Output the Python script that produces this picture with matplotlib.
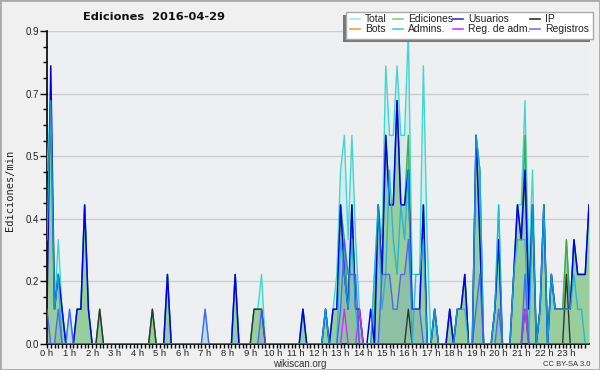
import numpy as np
import matplotlib.pyplot as plt
from matplotlib.lines import Line2D
from matplotlib.patches import Rectangle

# ── DATA (edits per 10 min, in tenths of edits/min) ─────────────────────────
# one row per hour, 6 bins of 10 min, plus the 24 h end point
total = [5, 7, 1, 3, 1, 0,  1, 0, 1, 1, 4, 1,  0, 0, 1, 0, 0, 0,  0, 0, 0, 0, 0, 0,
         0, 0, 0, 0, 1, 0,  0, 0, 2, 0, 0, 0,  0, 0, 0, 0, 0, 0,  1, 0, 0, 0, 0, 0,
         0, 0, 2, 0, 0, 0,  0, 1, 1, 2, 0, 0,  0, 0, 0, 0, 0, 0,  0, 0, 1, 0, 0, 0,
         0, 0, 1, 0, 1, 2,  5, 6, 3, 6, 3, 1,  0, 0, 0, 2, 4, 3,  8, 6, 6, 8, 6, 6,
         9, 2, 2, 2, 8, 3,  0, 1, 0, 0, 0, 1,  0, 1, 1, 2, 0, 0,  6, 5, 0, 0, 0, 1,
         4, 0, 0, 0, 2, 4,  4, 7, 2, 5, 0, 1,  4, 0, 2, 1, 1, 1,  3, 1, 3, 2, 2, 2,
         4]
ediciones = [5, 6, 1, 2, 1, 0,  0, 0, 1, 1, 4, 1,  0, 0, 1, 0, 0, 0,  0, 0, 0, 0, 0, 0,
             0, 0, 0, 0, 1, 0,  0, 0, 2, 0, 0, 0,  0, 0, 0, 0, 0, 0,  0, 0, 0, 0, 0, 0,
             0, 0, 2, 0, 0, 0,  0, 1, 1, 1, 0, 0,  0, 0, 0, 0, 0, 0,  0, 0, 1, 0, 0, 0,
             0, 0, 1, 0, 1, 1,  4, 3, 1, 4, 1, 1,  0, 0, 0, 1, 4, 2,  6, 4, 4, 7, 4, 4,
             6, 1, 1, 1, 4, 0,  0, 1, 0, 0, 0, 1,  0, 1, 1, 2, 0, 0,  6, 5, 0, 0, 0, 1,
             3, 0, 0, 0, 2, 4,  3, 6, 1, 4, 0, 1,  4, 0, 2, 1, 1, 1,  3, 1, 3, 2, 2, 2,
             4]
usuarios = [1, 8, 1, 2, 1, 0,  0, 0, 1, 1, 4, 1,  0, 0, 0, 0, 0, 0,  0, 0, 0, 0, 0, 0,
            0, 0, 0, 0, 0, 0,  0, 0, 2, 0, 0, 0,  0, 0, 0, 0, 0, 0,  0, 0, 0, 0, 0, 0,
            0, 0, 2, 0, 0, 0,  0, 0, 0, 0, 0, 0,  0, 0, 0, 0, 0, 0,  0, 0, 1, 0, 0, 0,
            0, 0, 1, 0, 1, 1,  4, 2, 1, 4, 1, 1,  0, 0, 1, 0, 4, 2,  6, 4, 4, 7, 4, 4,
            5, 1, 1, 1, 4, 0,  0, 1, 0, 0, 0, 1,  0, 1, 1, 2, 0, 0,  6, 3, 0, 0, 0, 1,
            3, 0, 0, 0, 2, 4,  3, 5, 1, 4, 0, 1,  4, 0, 2, 1, 1, 1,  1, 1, 3, 2, 2, 2,
            4]
ip = [0, 0, 0, 0, 0, 0,  0, 0, 0, 0, 0, 0,  0, 0, 1, 0, 0, 0,  0, 0, 0, 0, 0, 0,
      0, 0, 0, 0, 1, 0,  0, 0, 0, 0, 0, 0,  0, 0, 0, 0, 0, 0,  0, 0, 0, 0, 0, 0,
      0, 0, 0, 0, 0, 0,  0, 1, 1, 1, 0, 0,  0, 0, 0, 0, 0, 0,  0, 0, 0, 0, 0, 0,
      0, 0, 0, 0, 0, 0,  0, 0, 0, 0, 0, 0,  0, 0, 0, 0, 0, 0,  0, 0, 0, 0, 0, 0,
      1, 0, 0, 0, 0, 0,  0, 0, 0, 0, 0, 0,  0, 0, 0, 0, 0, 0,  0, 0, 0, 0, 0, 0,
      0, 0, 0, 0, 0, 0,  0, 1, 0, 0, 0, 0,  0, 0, 0, 0, 0, 0,  2, 0, 0, 0, 0, 0,
      0]
bots = [0] * 145
admins = [3, 7, 1, 2, 0, 0,  0, 0, 0, 0, 0, 0,  0, 0, 0, 0, 0, 0,  0, 0, 0, 0, 0, 0,
          0, 0, 0, 0, 0, 0,  0, 0, 0, 0, 0, 0,  0, 0, 0, 0, 0, 0,  0, 0, 0, 0, 0, 0,
          0, 0, 0, 0, 0, 0,  0, 0, 0, 0, 0, 0,  0, 0, 0, 0, 0, 0,  0, 0, 0, 0, 0, 0,
          0, 0, 1, 0, 0, 0,  3, 2, 1, 3, 1, 0,  0, 0, 0, 2, 4, 1,  2, 5, 3, 2, 4, 3,
          5, 0, 2, 2, 3, 0,  0, 1, 0, 0, 0, 0,  0, 1, 1, 1, 0, 0,  6, 5, 0, 0, 0, 1,
          4, 0, 0, 0, 2, 3,  3, 3, 0, 4, 0, 1,  4, 0, 2, 1, 1, 1,  1, 1, 2, 1, 1, 0,
          0]
reg_adm = [0] * 78 + [0, 1, 0, 0, 0, 1] + [0] * 43 + [1] + [0] * 17
registros = [1, 0, 0, 1, 0, 0,  1, 0, 0, 0, 0, 0,  0, 0, 0, 0, 0, 0,  0, 0, 0, 0, 0, 0,
             0, 0, 0, 0, 0, 0,  0, 0, 0, 0, 0, 0,  0, 0, 0, 0, 0, 0,  1, 0, 0, 0, 0, 0,
             0, 0, 0, 0, 0, 0,  0, 0, 0, 1, 0, 0,  0, 0, 0, 0, 0, 0,  0, 0, 0, 0, 0, 0,
             0, 0, 0, 0, 0, 0,  1, 3, 2, 2, 2, 0,  0, 0, 0, 0, 0, 2,  2, 2, 1, 1, 2, 2,
             3, 1, 1, 1, 0, 0,  0, 0, 0, 0, 0, 0,  0, 0, 0, 0, 0, 0,  1, 2, 0, 0, 0, 0,
             1, 0, 0, 0, 0, 0,  0, 2, 0, 0, 0, 0,  0, 0, 0, 0, 0, 0,  0, 0, 0, 0, 0, 0,
             0]

hour_labels = [f"{h} h" for h in range(24)]
ytick_vals = [0.0, 0.18, 0.36, 0.54, 0.72, 0.9]
ytick_labels = ["0.0", "0.2", "0.4", "0.5", "0.7", "0.9"]

legend_names = [["Total", "Ediciones", "Usuarios", "IP"],
                ["Bots", "Admins.", "Reg. de adm.", "Registros"]]
legend_colors = [["#a8e8e6", "#88cc88", "#3333dd", "#333333"],
                 ["#ff9933", "#44ccdd", "#cc44ee", "#7777ee"]]

# ── PLOT ────────────────────────────────────────────────────────────────────
FONT = "Liberation Sans"
hours = np.arange(len(total)) / 6.0
s = lambda v: np.array(v) / 10.0

fig = plt.figure(figsize=(6.0, 3.7), dpi=100, facecolor="#f0f0f0")
ax = fig.add_axes([47 / 600, 26 / 370, 542 / 600, 313 / 370], facecolor="#eeeff1")

for y in ytick_vals[1:]:
    ax.axhline(y, color="#cccccc", linewidth=1.0, zorder=0)

ax.fill_between(hours, 0, s(total), color="#cdecee", alpha=0.75, linewidth=0, zorder=1)
ax.fill_between(hours, 0, s(ediciones), color="#8ec98e", alpha=0.85, linewidth=0, zorder=2)
ax.fill_between(hours, 0, s(registros), color="#5577cc", alpha=0.15, linewidth=0, zorder=3)

ax.plot(hours, s(total), color="#3fd8d0", linewidth=1.0, zorder=4)
ax.plot(hours, s(ediciones), color="#44aa44", linewidth=1.0, zorder=5)
ax.plot(hours, s(usuarios), color="#0000ee", linewidth=1.1, zorder=6)
ax.plot(hours, s(ip), color="#333333", linewidth=1.0, zorder=7)
ax.plot(hours, s(admins), color="#12b4dc", linewidth=1.0, alpha=0.85, zorder=8)
ax.plot(hours, s(reg_adm), color="#cc33ee", linewidth=1.0, zorder=9)
ax.plot(hours, s(registros), color="#4455ff", linewidth=1.0, alpha=0.85, zorder=10)

ax.set_xlim(0, 24)
ax.set_ylim(0, 0.9)
ax.set_xticks(range(24))
ax.set_xticklabels(hour_labels, fontsize=6.8, color="#222222", family=FONT)
ax.set_xticks(np.arange(0, 24, 1 / 6), minor=True)
ax.set_yticks(ytick_vals)
ax.set_yticklabels(ytick_labels, fontsize=7, color="#222222", family=FONT)
ax.set_yticks(np.arange(0, 0.9, 0.045), minor=True)
ax.tick_params(axis="x", which="both", direction="out", length=3, width=1, pad=0.5)
ax.tick_params(axis="y", which="major", direction="out", length=5, width=1, pad=1)
ax.tick_params(axis="y", which="minor", direction="out", length=3, width=1)
for side in ["top", "right"]:
    ax.spines[side].set_visible(False)
ax.spines["left"].set_linewidth(1.2)
ax.spines["bottom"].set_linewidth(1.2)

fig.text(10 / 600, 1 - 190 / 370, "Ediciones/min", rotation=90, va="center", ha="center",
         fontsize=7.5, family="DejaVu Sans Mono", color="#222222")
fig.text(154 / 600, 1 - 17 / 370, "Ediciones  2016-04-29", ha="center", va="center",
         fontsize=8.2, fontweight="bold", color="#111111")
fig.text(300 / 600, 1 - 364 / 370, "wikiscan.org", ha="center", va="center",
         fontsize=7, color="#333333", family=FONT)
fig.text(590 / 600, 1 - 364 / 370, "CC BY-SA 3.0", ha="right", va="center",
         fontsize=5.5, color="#333333", family=FONT)

# legend box with shadow
px = lambda x, y: (x / 600, 1 - y / 370)
fig.add_artist(Rectangle(px(343, 42), 247 / 600, 27 / 370, transform=fig.transFigure,
                         facecolor="#777777", edgecolor="none"))
fig.add_artist(Rectangle(px(346, 39), 247 / 600, 27 / 370, transform=fig.transFigure,
                         facecolor="white", edgecolor="#aaaaaa", linewidth=1))
col_x = [350, 393, 453, 530]
row_y = [19, 29]
for r in range(2):
    for c in range(4):
        x0, y0 = col_x[c], row_y[r]
        fig.add_artist(Line2D([x0 / 600, (x0 + 10) / 600], [1 - y0 / 370] * 2,
                              transform=fig.transFigure, color=legend_colors[r][c], linewidth=1.2))
        fig.text((x0 + 15) / 600, 1 - y0 / 370, legend_names[r][c], ha="left", va="center",
                 fontsize=7.5, color="#222222", family=FONT)

fig.add_artist(Rectangle((0, 0), 1, 1, transform=fig.transFigure, facecolor="none",
                         edgecolor="#aaaaaa", linewidth=2))

plt.savefig("out.png", dpi=100, facecolor=fig.get_facecolor())
